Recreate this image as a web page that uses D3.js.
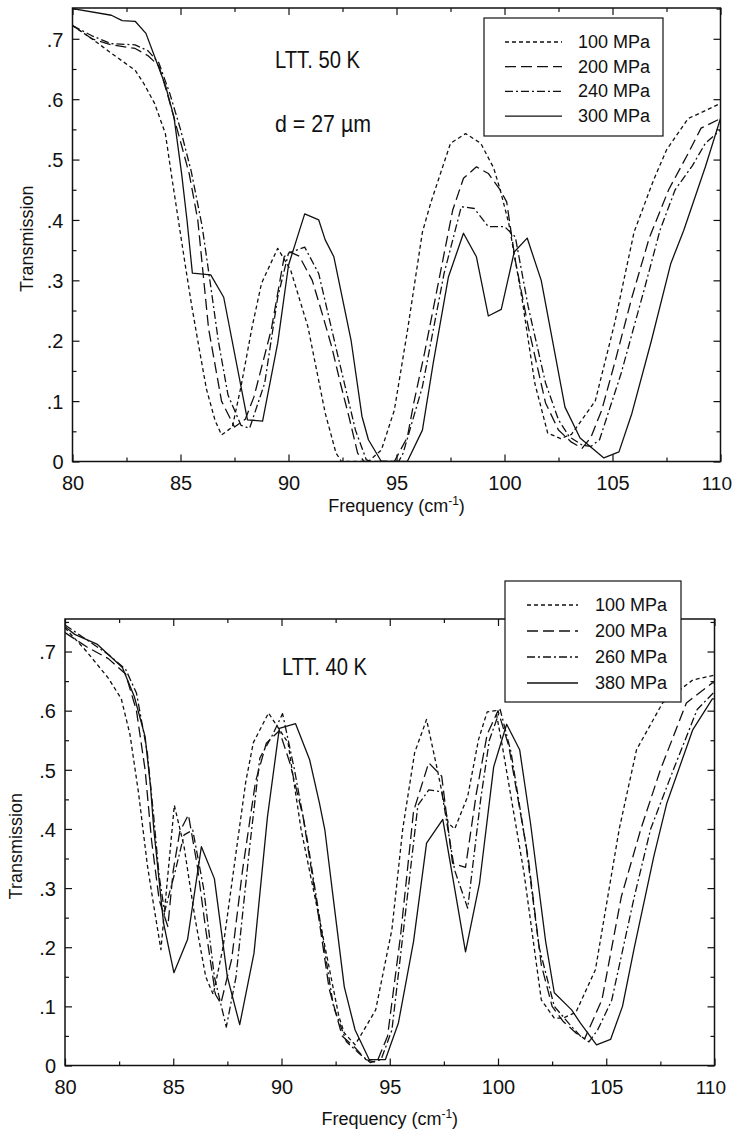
<!DOCTYPE html>
<html>
<head>
<meta charset="utf-8">
<script src="https://cdn.jsdelivr.net/npm/d3@7"></script>
<style>
  body { margin: 0; background: #fff; }
  text { font-family: "Liberation Sans", Arial, sans-serif; fill: #111; }
</style>
</head>
<body>
<svg id="fig" width="734" height="1135"></svg>
<script>
// ---- data (frequency cm-1, transmission) ----
const xTickVals = [80, 85, 90, 95, 100, 105, 110];
const xMinorVals = [82.5, 87.5, 92.5, 97.5, 102.5, 107.5];
const yTickVals = [0, 0.1, 0.2, 0.3, 0.4, 0.5, 0.6, 0.7];
const yTickLabels = ["0", ".1", ".2", ".3", ".4", ".5", ".6", ".7"];
const yMinorVals = [0.05, 0.15, 0.25, 0.35, 0.45, 0.55, 0.65, 0.75];

const topLegend = ["100 MPa", "200 MPa", "240 MPa", "300 MPa"];
const botLegend = ["100 MPa", "200 MPa", "260 MPa", "380 MPa"];

// LTT, 50 K
const top100 = [[80,0.722],[80.9,0.700],[81.8,0.676],[82.9,0.648],[83.3,0.626],[83.8,0.593],[84.3,0.543],[84.6,0.470],[84.9,0.400],[85.2,0.330],[85.5,0.262],[85.8,0.200],[86.2,0.120],[86.6,0.068],[86.9,0.044],[87.4,0.057],[87.8,0.124],[88.3,0.220],[88.75,0.295],[89.5,0.353],[90.1,0.317],[90.9,0.223],[91.7,0.080],[92.2,0.014],[92.45,0],[93.7,0],[94.3,0.019],[94.9,0.085],[95.5,0.215],[96.2,0.380],[96.6,0.430],[97.5,0.527],[98.2,0.543],[98.9,0.527],[99.5,0.486],[99.8,0.450],[100.2,0.394],[100.8,0.272],[101.4,0.130],[102.0,0.047],[102.6,0.038],[103.1,0.045],[103.6,0.070],[104.2,0.100],[105.1,0.229],[106.0,0.380],[106.9,0.466],[107.5,0.516],[108.5,0.568],[109.0,0.576],[110,0.593]];
const top200 = [[80,0.722],[80.9,0.700],[81.8,0.690],[82.9,0.684],[83.5,0.672],[84.0,0.655],[84.4,0.608],[84.9,0.543],[85.4,0.477],[85.8,0.400],[86.3,0.220],[86.9,0.100],[87.5,0.057],[88.0,0.070],[88.4,0.107],[89.2,0.218],[89.8,0.339],[90.05,0.347],[90.5,0.340],[91.1,0.300],[91.6,0.240],[92.0,0.190],[92.4,0.130],[92.8,0.074],[93.2,0.014],[93.5,0],[94.9,0],[95.5,0.040],[95.8,0.097],[96.3,0.180],[96.9,0.289],[97.6,0.416],[98.1,0.469],[98.7,0.488],[99.25,0.477],[99.8,0.450],[100.1,0.430],[100.5,0.333],[101.1,0.223],[101.9,0.097],[102.5,0.052],[103.1,0.032],[103.6,0.022],[104.0,0.040],[104.5,0.085],[105.1,0.163],[105.9,0.272],[106.7,0.370],[107.6,0.450],[108.5,0.510],[109.1,0.552],[110,0.568]];
const top240 = [[80,0.722],[80.9,0.705],[81.8,0.692],[82.9,0.690],[83.5,0.680],[84.0,0.660],[84.5,0.610],[85.0,0.550],[85.5,0.480],[86.0,0.390],[86.4,0.290],[86.75,0.200],[87.2,0.110],[87.8,0.060],[88.2,0.055],[88.9,0.130],[89.5,0.272],[90.0,0.345],[90.75,0.355],[91.4,0.311],[92.3,0.173],[93.1,0.052],[93.6,0.003],[93.8,0],[95.1,0],[95.3,0.013],[96.2,0.124],[97.2,0.311],[98.0,0.422],[98.6,0.419],[99.25,0.389],[100.0,0.389],[100.5,0.372],[101.1,0.256],[101.9,0.130],[102.5,0.069],[103.0,0.041],[103.6,0.027],[104.0,0.025],[104.4,0.036],[105.4,0.146],[106.5,0.289],[107.2,0.383],[107.9,0.450],[108.7,0.490],[109.3,0.527],[110,0.549]];
const top300 = [[80,0.750],[81.8,0.739],[82.3,0.730],[82.9,0.729],[83.4,0.709],[83.9,0.661],[84.3,0.623],[84.7,0.570],[85.05,0.477],[85.3,0.400],[85.55,0.312],[86.4,0.309],[87.0,0.272],[88.1,0.069],[88.8,0.067],[89.5,0.196],[90.0,0.325],[90.37,0.367],[90.75,0.410],[91.4,0.400],[91.7,0.367],[92.1,0.339],[92.9,0.200],[93.4,0.075],[93.7,0.036],[94.3,0],[95.5,0],[96.2,0.052],[96.7,0.163],[97.4,0.305],[98.1,0.378],[98.7,0.339],[99.25,0.241],[99.85,0.252],[100.45,0.347],[101.05,0.370],[101.7,0.300],[102.8,0.090],[103.5,0.039],[104.6,0.006],[105.3,0.016],[105.9,0.080],[106.8,0.200],[107.7,0.328],[108.3,0.383],[109.3,0.488],[110,0.568]];

// LTT, 40 K
const bot100 = [[80,0.740],[81.0,0.700],[82.0,0.655],[82.6,0.620],[83.0,0.560],[83.4,0.460],[83.8,0.340],[84.1,0.270],[84.43,0.196],[85.05,0.440],[85.5,0.370],[86.0,0.250],[86.5,0.150],[86.85,0.120],[87.3,0.200],[87.9,0.360],[88.35,0.480],[88.7,0.546],[89.4,0.596],[90.3,0.546],[90.9,0.400],[91.85,0.230],[92.65,0.083],[92.9,0.055],[93.4,0.035],[94.0,0.072],[94.35,0.094],[95.1,0.230],[95.6,0.400],[96.15,0.529],[96.7,0.585],[97.2,0.500],[97.7,0.410],[98.0,0.400],[98.6,0.455],[99.1,0.551],[99.5,0.598],[99.9,0.600],[100.2,0.540],[101.2,0.326],[102.0,0.111],[102.6,0.080],[103.0,0.080],[103.6,0.090],[104.5,0.162],[105.6,0.400],[106.4,0.534],[107.6,0.613],[109.0,0.652],[110,0.660]];
const bot200 = [[80,0.732],[81.0,0.708],[82.0,0.688],[82.8,0.662],[83.3,0.600],[83.7,0.500],[84.0,0.380],[84.35,0.280],[84.75,0.235],[85.0,0.330],[85.3,0.395],[85.7,0.424],[86.1,0.340],[86.5,0.230],[86.95,0.120],[87.2,0.105],[87.7,0.180],[88.2,0.330],[88.8,0.480],[89.3,0.545],[89.9,0.566],[90.4,0.510],[91.0,0.420],[91.6,0.280],[92.2,0.130],[92.8,0.050],[93.4,0.030],[93.9,0.010],[94.4,0.005],[94.9,0.050],[95.5,0.220],[96.1,0.430],[96.8,0.512],[97.4,0.489],[97.9,0.342],[98.5,0.335],[99.0,0.460],[99.5,0.560],[100.0,0.600],[100.5,0.540],[101.4,0.350],[102.0,0.170],[102.5,0.100],[103.0,0.075],[103.6,0.055],[104.0,0.045],[104.8,0.111],[105.7,0.286],[106.6,0.400],[107.5,0.500],[108.7,0.613],[109.9,0.647],[110,0.647]];
const bot260 = [[80,0.745],[81.0,0.720],[82.0,0.695],[82.8,0.670],[83.3,0.630],[83.8,0.530],[84.1,0.420],[84.35,0.320],[84.6,0.260],[85.1,0.330],[85.5,0.390],[85.9,0.398],[86.4,0.300],[86.9,0.150],[87.45,0.065],[87.9,0.150],[88.5,0.360],[89.0,0.520],[89.6,0.560],[90.05,0.595],[90.6,0.500],[91.2,0.380],[91.8,0.240],[92.4,0.100],[93.0,0.040],[93.6,0.020],[94.1,0.005],[94.6,0.010],[95.1,0.060],[95.7,0.250],[96.3,0.440],[96.8,0.466],[97.4,0.463],[98.0,0.330],[98.6,0.266],[99.2,0.450],[99.6,0.550],[100.1,0.602],[100.6,0.530],[101.3,0.370],[101.9,0.200],[102.6,0.100],[103.3,0.070],[103.8,0.050],[104.2,0.040],[104.6,0.060],[105.25,0.110],[106.3,0.286],[107.05,0.400],[108.1,0.500],[109.2,0.602],[110,0.632]];
const bot380 = [[80,0.742],[80.45,0.729],[81.5,0.712],[82.65,0.673],[83.2,0.624],[83.7,0.556],[83.95,0.472],[84.1,0.400],[84.55,0.241],[85.03,0.157],[85.66,0.213],[86.3,0.370],[86.9,0.316],[87.5,0.150],[88.07,0.069],[88.73,0.190],[89.35,0.420],[89.9,0.570],[90.65,0.578],[91.3,0.517],[91.75,0.444],[92.0,0.399],[92.4,0.280],[92.9,0.133],[93.4,0.060],[94.05,0.010],[94.8,0.010],[95.4,0.072],[96.1,0.210],[96.7,0.376],[97.45,0.416],[98.5,0.192],[99.15,0.309],[99.8,0.505],[100.4,0.577],[101.0,0.534],[101.5,0.410],[102.2,0.210],[102.6,0.123],[103.4,0.094],[103.8,0.072],[104.55,0.035],[105.2,0.044],[105.75,0.100],[106.3,0.200],[107.2,0.354],[107.8,0.444],[109.0,0.568],[109.9,0.620],[110,0.620]];

// line styles, same order as legends: fine dash, long dash, dash-dot, solid
const dashes = ["4,3", "11,5", "8,3,2,3", null];

const svg = d3.select("#fig");
const ink = "#111";

function drawPanel(p) {
  const x = d3.scaleLinear().domain([80, 110]).range([p.left, p.right]);
  const y = d3.scaleLinear().domain([0, p.yMax]).range([p.bottom, p.top]);
  const g = svg.append("g");

  g.append("clipPath").attr("id", p.id + "-clip")
    .append("rect")
    .attr("x", p.left).attr("y", p.top)
    .attr("width", p.right - p.left).attr("height", p.bottom - p.top);

  // curves
  const line = d3.line().x(d => x(d[0])).y(d => y(d[1]));
  g.append("g").attr("clip-path", `url(#${p.id}-clip)`)
    .selectAll("path")
    .data(p.series)
    .enter()
    .append("path")
    .attr("d", line)
    .attr("fill", "none")
    .attr("stroke", ink)
    .attr("stroke-width", 1.3)
    .attr("stroke-linejoin", "round")
    .attr("stroke-dasharray", (d, i) => dashes[i]);

  // frame
  g.append("rect")
    .attr("x", p.left).attr("y", p.top)
    .attr("width", p.right - p.left).attr("height", p.bottom - p.top)
    .attr("fill", "none").attr("stroke", ink).attr("stroke-width", 1.5);

  // inward ticks on all four sides
  const tickAxis = (axisFn, scale, vals, size, tr) => {
    const a = g.append("g").attr("transform", tr)
      .call(axisFn(scale).tickValues(vals).tickSize(-size).tickFormat(""));
    a.select(".domain").remove();
    a.selectAll("line").attr("stroke", ink).attr("stroke-width", 1.2);
    return a;
  };
  tickAxis(d3.axisTop, x, xTickVals, 7, `translate(0,${p.top})`);
  tickAxis(d3.axisTop, x, xMinorVals, 4, `translate(0,${p.top})`);
  tickAxis(d3.axisRight, y, yTickVals, 7, `translate(${p.right},0)`);
  tickAxis(d3.axisRight, y, yMinorVals, 4, `translate(${p.right},0)`);
  tickAxis(d3.axisBottom, x, xMinorVals, 4, `translate(0,${p.bottom})`);
  tickAxis(d3.axisLeft, y, yMinorVals, 4, `translate(${p.left},0)`);

  const xa = g.append("g").attr("transform", `translate(0,${p.bottom})`)
    .call(d3.axisBottom(x).tickValues(xTickVals).tickSize(-7));
  xa.select(".domain").remove();
  xa.selectAll("line").attr("stroke", ink).attr("stroke-width", 1.2);
  xa.attr("font-family", null).attr("font-size", null);
  xa.selectAll("text").attr("y", 28).attr("dy", null)
    .style("font-size", "20px").attr("fill", ink);
  // the last label sits at the page edge: right-align it inside the page
  xa.selectAll("text").filter(d => d === 110)
    .attr("text-anchor", "end").attr("dx", 11)
    .style("font-size", "19px");

  const ya = g.append("g").attr("transform", `translate(${p.left},0)`)
    .call(d3.axisLeft(y).tickValues(yTickVals).tickSize(-7)
      .tickFormat((d, i) => yTickLabels[i]));
  ya.select(".domain").remove();
  ya.selectAll("line").attr("stroke", ink).attr("stroke-width", 1.2);
  ya.attr("font-family", null).attr("font-size", null);
  ya.selectAll("text").attr("x", -9).attr("dy", "0.36em")
    .style("font-size", "20px").attr("fill", ink);

  // axis titles
  g.append("text")
    .attr("transform", `translate(${p.yTitleX},${(p.top + p.bottom) / 2 + 4}) rotate(-90)`)
    .attr("text-anchor", "middle")
    .style("font-size", "18px")
    .text("Transmission");

  const xt = g.append("text")
    .attr("x", (p.left + p.right) / 2)
    .attr("y", p.xTitleY)
    .attr("text-anchor", "middle")
    .style("font-size", "18px");
  xt.append("tspan").text("Frequency (cm");
  xt.append("tspan").attr("dy", -7).style("font-size", "12px").text("-1");
  xt.append("tspan").attr("dy", 7).text(")");

  // annotations
  p.notes.forEach(n => {
    g.append("text")
      .attr("x", n.x).attr("y", n.y)
      .attr("textLength", n.w).attr("lengthAdjust", "spacingAndGlyphs")
      .style("font-size", "24px")
      .text(n.text);
  });

  // legend (opaque box)
  const L = p.legend;
  const lg = g.append("g");
  lg.append("rect")
    .attr("x", L.x).attr("y", L.y).attr("width", L.w).attr("height", L.h)
    .attr("fill", "#fff").attr("stroke", ink).attr("stroke-width", 1.2);
  L.labels.forEach((lab, i) => {
    const by = L.firstBaseline + i * L.step;
    lg.append("line")
      .attr("x1", L.lineX1).attr("x2", L.lineX2)
      .attr("y1", by - 6).attr("y2", by - 6)
      .attr("stroke", ink).attr("stroke-width", 1.3)
      .attr("stroke-dasharray", dashes[i]);
    lg.append("text")
      .attr("x", L.textX).attr("y", by)
      .style("font-size", "18px")
      .text(lab);
  });
}

drawPanel({
  id: "top",
  left: 72.5, right: 720.5, top: 8, bottom: 461.5, yMax: 0.751,
  series: [top100, top200, top240, top300],
  yTitleX: 33, xTitleY: 512,
  notes: [
    { text: "LTT. 50 K", x: 275, y: 68, w: 85 },
    { text: "d = 27 µm", x: 275, y: 132, w: 96 }
  ],
  legend: { x: 484, y: 18, w: 179, h: 118, labels: topLegend,
            firstBaseline: 48, step: 24.7, lineX1: 505, lineX2: 562, textX: 578 }
});

drawPanel({
  id: "bot",
  left: 65, right: 714.5, top: 619, bottom: 1065.5, yMax: 0.755,
  series: [bot100, bot200, bot260, bot380],
  yTitleX: 22, xTitleY: 1125,
  notes: [
    { text: "LTT. 40 K", x: 282, y: 675, w: 85 }
  ],
  legend: { x: 505, y: 581, w: 176, h: 121, labels: botLegend,
            firstBaseline: 611, step: 26, lineX1: 527, lineX2: 578, textX: 595 }
});
</script>
</body>
</html>
